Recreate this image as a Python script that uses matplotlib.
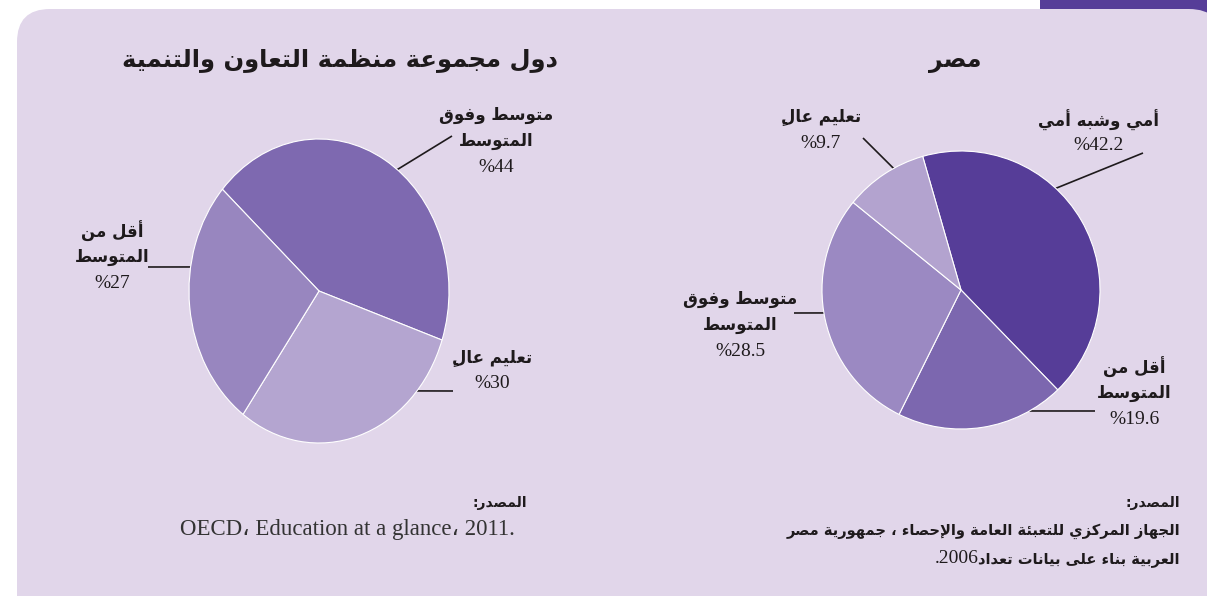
import matplotlib
matplotlib.use('Agg')
import matplotlib.pyplot as plt
from matplotlib.patches import FancyBboxPatch, Rectangle
import numpy as np

W, H = 1207, 596

# ---- data ----
egypt_title = 'مصر'
egypt_labels = ['أمي وشبه أمي', 'أقل من\nالمتوسط', 'متوسط وفوق\nالمتوسط', 'تعليم عالٍ']
egypt_values = [42.2, 19.6, 28.5, 9.7]
egypt_colors = ['#563D98', '#7C67AF', '#9B89C2', '#B3A3CF']

oecd_title = 'دول مجموعة منظمة التعاون والتنمية'
oecd_labels = ['متوسط وفوق\nالمتوسط', 'تعليم عالٍ', 'أقل من\nالمتوسط']
oecd_values = [44, 30, 27]
oecd_colors = ['#7E69B0', '#B4A5D0', '#9886BF']

source_head = 'المصدر:'
egypt_source = ['الجهاز المركزي للتعبئة العامة والإحصاء ، جمهورية مصر',
                'العربية بناء على بيانات تعداد2006.']
oecd_source = 'OECD، Education at a glance، 2011.'

BG = '#E1D6EA'
INK = '#1E1A1C'

# ---- small arabic shaper (matplotlib has no text shaping) ----
FORMS = {
    'ء': (0xFE80, 0), 'آ': (0xFE81, 1), 'أ': (0xFE83, 1), 'ؤ': (0xFE85, 1),
    'إ': (0xFE87, 1), 'ئ': (0xFE89, 2), 'ا': (0xFE8D, 1), 'ب': (0xFE8F, 2),
    'ة': (0xFE93, 1), 'ت': (0xFE95, 2), 'ث': (0xFE99, 2), 'ج': (0xFE9D, 2),
    'ح': (0xFEA1, 2), 'خ': (0xFEA5, 2), 'د': (0xFEA9, 1), 'ذ': (0xFEAB, 1),
    'ر': (0xFEAD, 1), 'ز': (0xFEAF, 1), 'س': (0xFEB1, 2), 'ش': (0xFEB5, 2),
    'ص': (0xFEB9, 2), 'ض': (0xFEBD, 2), 'ط': (0xFEC1, 2), 'ظ': (0xFEC5, 2),
    'ع': (0xFEC9, 2), 'غ': (0xFECD, 2), 'ف': (0xFED1, 2), 'ق': (0xFED5, 2),
    'ك': (0xFED9, 2), 'ل': (0xFEDD, 2), 'م': (0xFEE1, 2), 'ن': (0xFEE5, 2),
    'ه': (0xFEE9, 2), 'و': (0xFEED, 1), 'ى': (0xFEEF, 1), 'ي': (0xFEF1, 2),
}
LAM_ALEF = {'آ': 0xFEF5, 'أ': 0xFEF7, 'إ': 0xFEF9, 'ا': 0xFEFB}
MARKS = set(chr(c) for c in range(0x064B, 0x0653))


def shape(text):
    # tokens: [char, base, jointype, marks]
    toks = []
    i = 0
    while i < len(text):
        c = text[i]
        if c in MARKS and toks:
            toks[-1][3] += c
        elif c == 'ل' and i + 1 < len(text) and text[i + 1] in LAM_ALEF:
            toks.append([c, LAM_ALEF[text[i + 1]], 1, ''])
            i += 1
        elif c in FORMS:
            toks.append([c, FORMS[c][0], FORMS[c][1], ''])
        else:
            toks.append([c, None, -1, ''])
        i += 1
    out = []
    for k, t in enumerate(toks):
        if t[1] is None:
            out.append(t[3] + t[0])
            continue
        prev = toks[k - 1] if k > 0 else None
        nxt = toks[k + 1] if k + 1 < len(toks) else None
        pj = t[2] >= 1 and prev is not None and prev[2] == 2
        nj = t[2] == 2 and nxt is not None and nxt[2] >= 1
        if t[2] == 0:
            f = 0
        elif pj and nj:
            f = 3
        elif pj:
            f = 1
        elif nj:
            f = 2
        else:
            f = 0
        # mark goes before its letter in visual (left to right) order
        out.append(t[3] + chr(t[1] + f))
    # visual order: reverse, but keep latin / digit runs left to right
    ltr = [c[-1].isascii() and c[-1].isalnum() for c in out]
    for k in range(1, len(out) - 1):
        if out[k] in '.,' and ltr[k - 1] and ltr[k + 1]:
            ltr[k] = True
    runs = []
    for c, l in zip(out, ltr):
        if runs and runs[-1][0] == l:
            runs[-1][1].append(c)
        else:
            runs.append([l, [c]])
    vis = ''
    for l, cs in reversed(runs):
        vis += ''.join(cs if l else reversed(cs))
    return vis


fig = plt.figure(figsize=(W / 100, H / 100), dpi=100)
fig.patch.set_facecolor('white')

bg = fig.add_axes([0, 0, 1, 1])
bg.set_xlim(0, W)
bg.set_ylim(H, 0)
bg.axis('off')
bg.add_patch(Rectangle((1040, -5), 200, 40, color='#563D98', lw=0))
bg.add_patch(FancyBboxPatch((17, 9), 1205, 620, boxstyle='round,pad=0,rounding_size=33',
                            fc=BG, ec='none'))


def draw_pie(values, colors, cx, cy, rx, ry, start):
    p = 1.05
    ax = fig.add_axes([(cx - rx * p) / W, 1 - (cy + ry * p) / H, 2 * rx * p / W, 2 * ry * p / H])
    ax.pie(values, colors=colors, startangle=start, counterclock=False,
           wedgeprops=dict(edgecolor='white', linewidth=0.8))
    ax.set_aspect('auto')
    ax.set_xlim(-p, p)
    ax.set_ylim(-p, p)
    ax.axis('off')
    return ax


def label(lines, pct, x, y, step=26):
    for j, ln in enumerate(lines.split('\n')):
        bg.text(x, y + j * step, shape(ln), ha='center', va='center', fontsize=12,
                fontweight='bold', family='DejaVu Sans', color=INK)
    bg.text(x, y + (j + 1) * step, '%' + pct, ha='center', va='center', fontsize=14,
            family='Liberation Serif', color=INK)


def leader(cx, cy, rx, ry, ang, ex, ey):
    a = np.deg2rad(ang)
    bg.plot([cx + rx * np.cos(a), ex], [cy - ry * np.sin(a), ey], color=INK, lw=1.2,
            solid_capstyle='butt')


# Egypt pie
ecx, ecy, er = 961, 290, 139
draw_pie(egypt_values, egypt_colors, ecx, ecy, er, er, 106)
egypt_pos = [(1099, 120), (1134, 367), (740, 299), (821, 117)]
egypt_lead = [(47, 1143, 153), (-60.5, 1095, 411), (189.5, 794, 313), (119, 863, 138)]
for lab, v, (x, y), (a, ex, ey) in zip(egypt_labels, egypt_values, egypt_pos, egypt_lead):
    label(lab, f'{v:g}', x, y)
    leader(ecx, ecy, er, er, a, ex, ey)

# OECD pie
ocx, ocy, orx, ory = 319, 291, 130, 152
draw_pie(oecd_values, oecd_colors, ocx, ocy, orx, ory, 138)
oecd_pos = [(496, 115), (492, 358), (112, 231)]
oecd_lead = [(53, 452, 136), (-41.1, 453, 391), (170.9, 148, 267)]
for lab, v, (x, y), (a, ex, ey) in zip(oecd_labels, oecd_values, oecd_pos, oecd_lead):
    label(lab, f'{v:g}', x, y)
    leader(ocx, ocy, orx, ory, a, ex, ey)

# titles
bg.text(955, 61, shape(egypt_title), ha='center', va='center', fontsize=17,
        fontweight='bold', family='DejaVu Sans', color=INK)
bg.text(340, 60, shape(oecd_title), ha='center', va='center', fontsize=17.5,
        fontweight='bold', family='DejaVu Sans', color=INK)

# sources
bg.text(527, 503, shape(source_head), ha='right', va='center', fontsize=10,
        fontweight='bold', family='DejaVu Sans', color=INK)
bg.text(515, 530, oecd_source, ha='right', va='center', fontsize=16.5,
        family=['Liberation Serif', 'DejaVu Sans'], color='#333333')
bg.text(1180, 503, shape(source_head), ha='right', va='center', fontsize=10,
        fontweight='bold', family='DejaVu Sans', color=INK)

renderer = fig.canvas.get_renderer()
for j, ln in enumerate(egypt_source):
    vis = shape(ln)
    # latin / digit part at the left end is set in the serif face
    k = 0
    while k < len(vis) and vis[k].isascii() and vis[k] != ' ':
        k += 1
    y = 535 + 28 * j
    t = bg.text(1180, y, vis[k:], ha='right', va='baseline', fontsize=10.5,
                fontweight='bold', family='DejaVu Sans', color=INK)
    if k:
        x0 = bg.transData.inverted().transform(t.get_window_extent(renderer).get_points())[0][0]
        bg.text(x0, y, vis[:k], ha='right', va='baseline', fontsize=14,
                family='Liberation Serif', color=INK)

fig.savefig('out.png', dpi=100, facecolor='white')
